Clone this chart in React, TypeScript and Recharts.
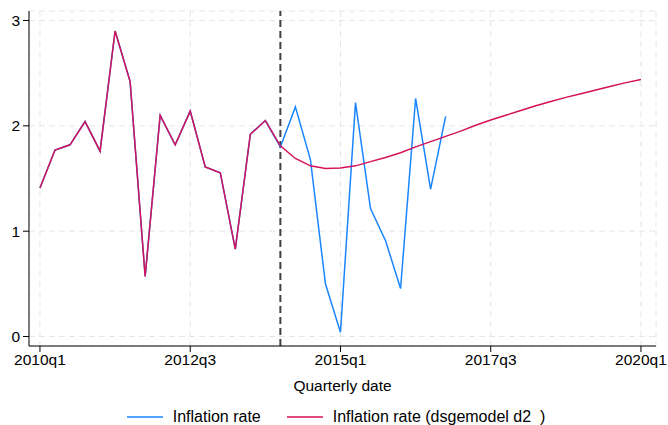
import { LineChart, Line, XAxis, YAxis, CartesianGrid, Legend, ReferenceLine } from 'recharts';

// quarter index 0 = 2010q1
const inflation = [
  1.41, 1.77, 1.82, 2.04, 1.76, 2.9, 2.42, 0.57, 2.1, 1.82, 2.14, 1.61, 1.555, 0.83, 1.92, 2.05,
  1.8, 2.18, 1.68, 0.5, 0.04, 2.22, 1.215, 0.91, 0.455, 2.26, 1.4, 2.09,
];
const dsgeForecast = [
  1.41, 1.77, 1.82, 2.04, 1.76, 2.9, 2.42, 0.57, 2.1, 1.82, 2.14, 1.61, 1.555, 0.83, 1.92, 2.05,
  1.81, 1.69, 1.62, 1.595, 1.6, 1.62, 1.66, 1.7, 1.745, 1.8, 1.85, 1.9, 1.95, 2.005, 2.055, 2.1,
  2.145, 2.19, 2.23, 2.27, 2.305, 2.34, 2.375, 2.41, 2.44,
];
const xTicks = [0, 10, 20, 30, 40];
const xTickLabels = ['2010q1', '2012q3', '2015q1', '2017q3', '2020q1'];
const yTicks = [0, 1, 2, 3];
const forecastStart = 16;

const chartData = dsgeForecast.map((v, i) => ({
  q: i,
  actual: i < inflation.length ? inflation[i] : null,
  dsge: v,
}));

const legendItems = [
  { label: 'Inflation rate', color: '#1a85ff' },
  { label: 'Inflation rate (dsgemodel d2  )', color: '#d41159' },
];

function ChartLegend() {
  return (
    <div style={{ display: 'flex', justifyContent: 'center', gap: 26, fontSize: 16, color: '#000', lineHeight: '20px', paddingLeft: 16 }}>
      {legendItems.map((it) => (
        <div key={it.label} style={{ display: 'flex', alignItems: 'center' }}>
          <svg width={36} height={10} style={{ marginRight: 10 }}>
            <line x1={0} y1={5} x2={36} y2={5} stroke={it.color} strokeWidth={1.5} />
          </svg>
          <span style={{ whiteSpace: 'pre' }}>{it.label}</span>
        </div>
      ))}
    </div>
  );
}

export default function App() {
  return (
    <div style={{ position: 'absolute', left: 0, top: 0, width: 668, height: 425, background: '#fff', fontFamily: '"Liberation Sans", Arial, sans-serif' }}>
      <LineChart width={668} height={425} data={chartData} margin={{ top: 11, right: 12, bottom: 9, left: 0 }}>
        <CartesianGrid strokeDasharray="6 4" stroke="#e6e6e6" />
        <XAxis
          dataKey="q"
          type="number"
          domain={[-0.73, 41]}
          ticks={xTicks}
          tickFormatter={(v: number) => xTickLabels[xTicks.indexOf(v)]}
          height={50}
          tickSize={6}
          tickMargin={2}
          stroke="#000"
          tick={{ fill: '#000', fontSize: 15.5 }}
          label={{ value: 'Quarterly date', position: 'insideBottom', offset: 5, fill: '#000', fontSize: 15.5 }}
        />
        <YAxis
          type="number"
          domain={[-0.09, 3.09]}
          ticks={yTicks}
          width={29}
          tickSize={6}
          tickMargin={3}
          stroke="#000"
          tick={{ fill: '#000', fontSize: 15.5 }}
        />
        <ReferenceLine x={forecastStart} stroke="#404040" strokeWidth={2} strokeDasharray="7 4" />
        <Line type="linear" dataKey="actual" stroke="#1a85ff" strokeWidth={1.5} dot={false} isAnimationActive={false} connectNulls={false} />
        <Line type="linear" dataKey="dsge" stroke="#d41159" strokeWidth={1.5} dot={false} isAnimationActive={false} />
        <Legend verticalAlign="bottom" height={20} wrapperStyle={{ bottom: -2 }} content={() => <ChartLegend />} />
      </LineChart>
    </div>
  );
}
